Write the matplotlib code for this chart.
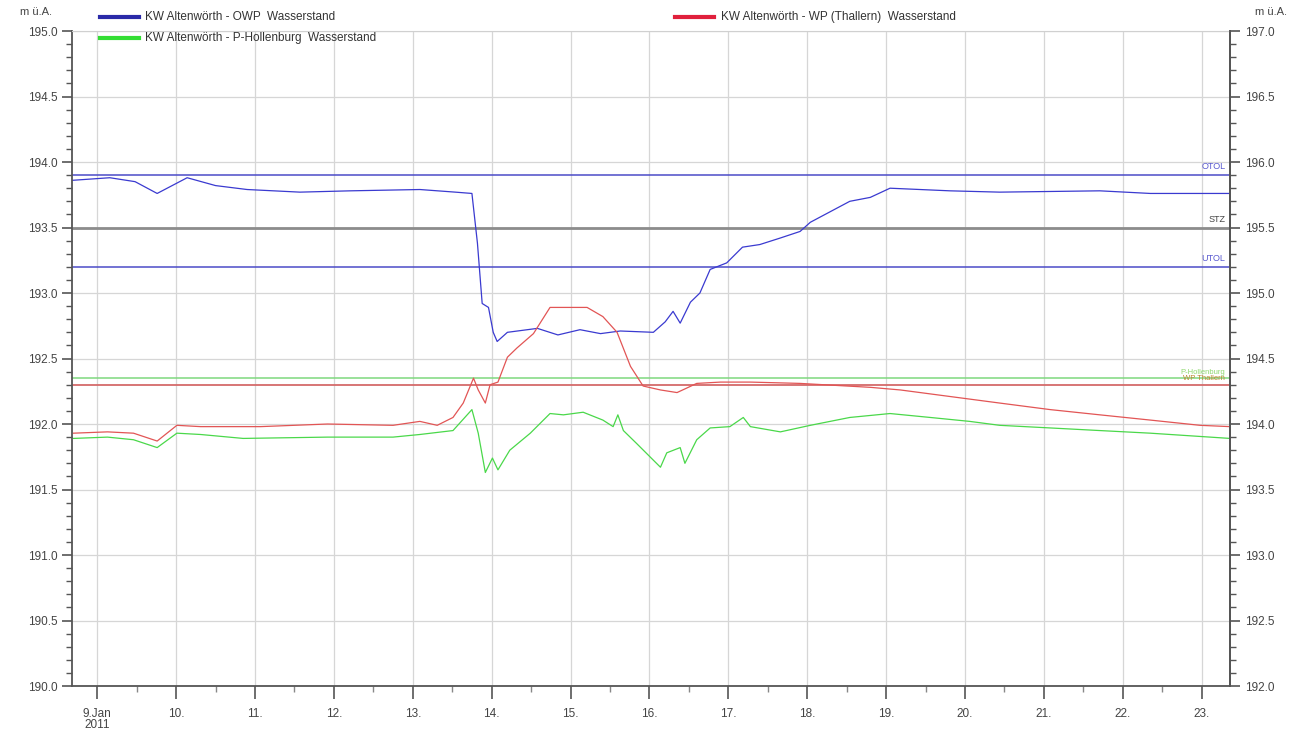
import matplotlib
matplotlib.use("Agg")
from matplotlib import pyplot as plt
from matplotlib.lines import Line2D
from matplotlib.ticker import MultipleLocator

plt.rcParams['font.family'] = ['Liberation Sans', 'DejaVu Sans']

# --- data (day of January 2011, water level m ü.A.) ---
owp_days = [8.68, 9.16, 9.48, 9.76, 10.14, 10.50, 10.90, 11.57, 12.21, 13.09, 13.54, 13.75,
            13.82, 13.88, 13.96, 14.02, 14.07, 14.20, 14.58, 14.84, 15.12, 15.38, 15.63, 16.05,
            16.20, 16.30, 16.39, 16.52, 16.64, 16.77, 16.98, 17.18, 17.40, 17.66, 17.91, 18.04,
            18.29, 18.54, 18.80, 19.05, 19.81, 20.44, 21.71, 22.35, 23.36]
owp_level = [193.86, 193.88, 193.85, 193.76, 193.88, 193.82, 193.79, 193.77, 193.78, 193.79, 193.77, 193.76,
             193.38, 192.92, 192.89, 192.70, 192.63, 192.70, 192.73, 192.68, 192.72, 192.69, 192.71, 192.70,
             192.78, 192.86, 192.77, 192.93, 193.00, 193.18, 193.23, 193.35, 193.37, 193.42, 193.47, 193.54,
             193.62, 193.70, 193.73, 193.80, 193.78, 193.77, 193.78, 193.76, 193.76]

wp_days = [8.70, 9.13, 9.46, 9.76, 10.01, 10.31, 11.07, 11.92, 12.75, 13.09, 13.31, 13.51, 13.64,
           13.77, 13.83, 13.92, 13.98, 14.08, 14.20, 14.32, 14.53, 14.74, 15.21, 15.41, 15.59,
           15.76, 15.92, 16.14, 16.35, 16.60, 16.90, 17.28, 17.91, 18.80, 19.18, 19.81, 20.44,
           21.08, 21.71, 22.35, 22.98, 23.36]
wp_level = [191.93, 191.94, 191.93, 191.87, 191.99, 191.98, 191.98, 192.00, 191.99, 192.02, 191.99, 192.05, 192.16,
            192.35, 192.26, 192.16, 192.30, 192.32, 192.51, 192.58, 192.69, 192.89, 192.89, 192.82, 192.70,
            192.44, 192.29, 192.26, 192.24, 192.31, 192.32, 192.32, 192.31, 192.28, 192.26, 192.21, 192.16,
            192.11, 192.07, 192.03, 191.99, 191.98]

hol_days = [8.70, 9.13, 9.46, 9.76, 10.01, 10.31, 10.85, 11.92, 12.75, 13.09, 13.51, 13.75, 13.83,
            13.92, 14.01, 14.08, 14.23, 14.49, 14.74, 14.91, 15.16, 15.41, 15.54, 15.60, 15.67,
            15.84, 16.14, 16.22, 16.39, 16.45, 16.60, 16.77, 17.02, 17.19, 17.28, 17.66, 18.04,
            18.54, 19.05, 19.56, 20.06, 20.44, 21.08, 21.71, 22.35, 23.36]
hol_level = [191.89, 191.90, 191.88, 191.82, 191.93, 191.92, 191.89, 191.90, 191.90, 191.92, 191.95, 192.11, 191.93,
             191.63, 191.74, 191.65, 191.80, 191.93, 192.08, 192.07, 192.09, 192.03, 191.98, 192.07, 191.95,
             191.85, 191.67, 191.78, 191.82, 191.70, 191.88, 191.97, 191.98, 192.05, 191.98, 191.94, 191.99,
             192.05, 192.08, 192.05, 192.02, 191.99, 191.97, 191.95, 191.93, 191.89]

otol = 193.9
stz = 193.5
utol = 193.2
hol_limit = 192.35
wp_limit = 192.3

day_ticks = list(range(9, 24))
day_labels = ["9.Jan\n2011"] + [f"{d}." for d in range(10, 24)]

# --- figure ---
fig = plt.figure(figsize=(12.99, 7.33), dpi=100)
ax = fig.add_axes([0.0554, 0.0641, 0.8915, 0.8936])
ax.set_xlim(8.68, 23.36)
ax.set_ylim(190.0, 195.0)

txt = '#444444'
ax.set_xticks(day_ticks)
ax.set_xticklabels(day_labels, fontsize=8.5, color=txt, va='top', linespacing=0.9)
ax.xaxis.set_minor_locator(MultipleLocator(0.5))
ax.yaxis.set_major_locator(MultipleLocator(0.5))
ax.yaxis.set_minor_locator(MultipleLocator(0.1))
ax.yaxis.set_major_formatter(matplotlib.ticker.FormatStrFormatter('%.1f'))
ax.tick_params(axis='x', which='major', length=9, width=1.2, color='#555555', pad=7)
ax.tick_params(axis='x', which='minor', length=4, width=1, color='#888888')
ax.tick_params(axis='y', which='major', length=7, width=1.2, color='#555555', labelsize=8.5, labelcolor=txt)
ax.tick_params(axis='y', which='minor', length=4, width=1, color='#555555')

ax.grid(True, which='major', color='#d6d6d6', linewidth=0.9)
ax.set_axisbelow(True)
for side in ['left', 'bottom', 'right']:
    ax.spines[side].set_color('#555555')
    ax.spines[side].set_linewidth(1.3)
ax.spines['top'].set_color('#d0d0d0')

# limit lines
ax.axhline(otol, color='#4b4bc8', linewidth=1.1)
ax.axhline(stz, color='#8c8c8c', linewidth=2.0)
ax.axhline(utol, color='#4b4bc8', linewidth=1.1)
ax.axhline(hol_limit, color='#7fd87f', linewidth=1.1)
ax.axhline(wp_limit, color='#d46a6a', linewidth=1.3)
ax.text(23.3, otol + 0.03, "OTOL", color='#5a5ad0', fontsize=6.5, ha='right', va='bottom')
ax.text(23.3, stz + 0.03, "STZ", color='#444444', fontsize=6.5, ha='right', va='bottom')
ax.text(23.3, utol + 0.03, "UTOL", color='#5a5ad0', fontsize=6.5, ha='right', va='bottom')
ax.text(23.3, hol_limit + 0.02, "P-Hollenburg", color='#8fd86f', fontsize=5.5, ha='right', va='bottom')
ax.text(23.3, wp_limit + 0.02, "WP Thallern", color='#b8862e', fontsize=5.5, ha='right', va='bottom')

# series
ax.plot(owp_days, owp_level, color='#3a3ad0', linewidth=0.9)
ax.plot(wp_days, wp_level, color='#e25555', linewidth=0.9)
ax.plot(hol_days, hol_level, color='#4ad84a', linewidth=0.9)

# right axis
ax2 = ax.twinx()
ax2.set_ylim(192.0, 197.0)
ax2.yaxis.set_major_locator(MultipleLocator(0.5))
ax2.yaxis.set_minor_locator(MultipleLocator(0.1))
ax2.yaxis.set_major_formatter(matplotlib.ticker.FormatStrFormatter('%.1f'))
ax2.tick_params(axis='y', which='major', length=7, width=1.2, color='#555555', labelsize=8.5, labelcolor=txt)
ax2.tick_params(axis='y', which='minor', length=4, width=1, color='#555555')
for side in ['left', 'bottom', 'top']:
    ax2.spines[side].set_visible(False)
ax2.spines['right'].set_color('#555555')
ax2.spines['right'].set_linewidth(1.3)

ax.text(-0.031, 1.022, "m ü.A.", transform=ax.transAxes, fontsize=8, color=txt, ha='center', va='bottom')
ax.text(1.035, 1.022, "m ü.A.", transform=ax.transAxes, fontsize=8, color=txt, ha='center', va='bottom')

# legend
leg_items = [
    (0.077, 0.9768, '#2a2aa8', "KW Altenwörth - OWP  Wasserstand"),
    (0.077, 0.9482, '#33dd33', "KW Altenwörth - P-Hollenburg  Wasserstand"),
    (0.520, 0.9768, '#e0203c', "KW Altenwörth - WP (Thallern)  Wasserstand"),
]
for lx, ly, col, label in leg_items:
    fig.add_artist(Line2D([lx, lx + 0.030], [ly, ly], color=col, linewidth=3, transform=fig.transFigure))
    fig.text(lx + 0.035, ly, label, fontsize=8.5, color='#333333', va='center', ha='left')

fig.savefig("out.png", dpi=100)
